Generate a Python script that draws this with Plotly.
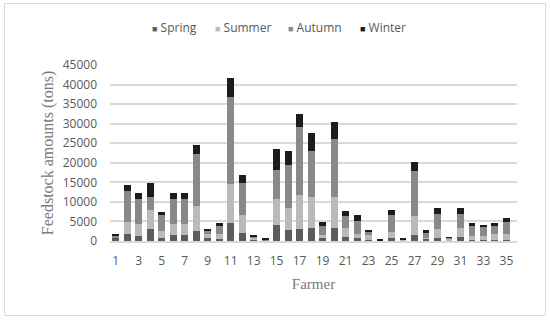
import plotly.graph_objects as go

farmers = list(range(1, 36))
spring = [800, 1800, 1270, 3050, 850, 1520, 1520, 2460, 700, 500, 4570, 2120, 300, 100, 4090, 2730, 2980, 3240, 680, 3320,
          1110, 770, 300, 100, 680, 250, 1620, 600, 850, 200, 940, 260, 260, 260, 260]
summer = [200, 3100, 3050, 4830, 1600, 2800, 2800, 6520, 1000, 1350, 10000, 4490, 600, 100, 6650, 5620, 8780, 7920, 940, 8010,
          2130, 1100, 1300, 100, 1530, 50, 4860, 200, 2130, 500, 2300, 1110, 1020, 1450, 1450]
autumn = [500, 7800, 6500, 3390, 4300, 6500, 6500, 13300, 900, 2100, 22280, 8220, 300, 100, 7410, 11160, 17380, 11840, 2300, 14650,
          3150, 3320, 700, 0, 4430, 100, 11500, 1200, 3920, 100, 3660, 2390, 2210, 2130, 3240]
winter = [200, 1600, 1440, 3560, 680, 1440, 1440, 2290, 500, 600, 4740, 2120, 200, 250, 5370, 3490, 3320, 4520, 940, 4430,
          1360, 1450, 500, 100, 1280, 300, 2130, 800, 1450, 150, 1620, 850, 600, 760, 850]
season_names = ["Spring", "Summer", "Autumn", "Winter"]
season_colors = ["#5c5c5c", "#bababa", "#898989", "#1c1c1c"]
x_ticks = list(range(1, 36, 2))
y_ticks = list(range(0, 45001, 5000))

fig = go.Figure()
for name, vals, col in zip(season_names, [spring, summer, autumn, winter], season_colors):
    fig.add_trace(go.Bar(x=farmers, y=vals, name=name, marker=dict(color=col, line=dict(width=0)),
                         showlegend=False))

# plot area pixel geometry
L, R, T, B = 110, 33, 65, 79
W, H = 550 - L - R, 320 - T - B

def px(x):
    return (x - L) / W

def py(y):
    return (320 - B - y) / H

# legend as annotations
leg_x = [150, 213, 286, 358]
for name, col, lx in zip(season_names, season_colors, leg_x):
    fig.add_annotation(
        x=px(lx), y=py(27), xref="paper", yref="paper", xanchor="left", yanchor="middle",
        text=f"<span style='color:{col};font-size:9px'>■</span>&nbsp;{name}",
        showarrow=False, font=dict(family="Open Sans", size=12, color="#595959"))

# outer frame
fig.add_shape(type="rect", xref="paper", yref="paper",
              x0=px(4.5), x1=px(545.5), y0=py(315.5), y1=py(3.5),
              line=dict(color="#d9d9d9", width=1), fillcolor="rgba(0,0,0,0)", layer="below")

fig.update_layout(
    barmode="stack",
    bargap=0.4,
    width=550, height=320,
    margin=dict(l=L, r=R, t=T, b=B),
    paper_bgcolor="white", plot_bgcolor="white",
    font=dict(family="Open Sans", size=12, color="#595959"),
    xaxis=dict(range=[0.5, 35.92], tickmode="array", tickvals=x_ticks, ticktext=[str(v) for v in x_ticks],
               showgrid=False, zeroline=False, showline=True, linecolor="#d9d9d9", linewidth=1.5,
               ticks="", ticklabelstandoff=8,
               title=dict(text="Farmer", font=dict(family="Liberation Serif", size=15, color="#7a7a7a"), standoff=10)),
    yaxis=dict(range=[0, 45000], tickmode="array", tickvals=y_ticks, ticktext=[str(v) for v in y_ticks],
               showgrid=True, gridcolor="#d9d9d9", gridwidth=1.5, zeroline=False, showline=False,
               ticks="", ticklabelstandoff=12,
               title=dict(text="Feedstock amounts (tons)", font=dict(family="Liberation Serif", size=16, color="#7a7a7a"),
                          standoff=5)),
)

fig.write_html("out.html", config={"displayModeBar": False},
               post_script="document.body.style.margin='0px';document.body.style.overflow='hidden';")
